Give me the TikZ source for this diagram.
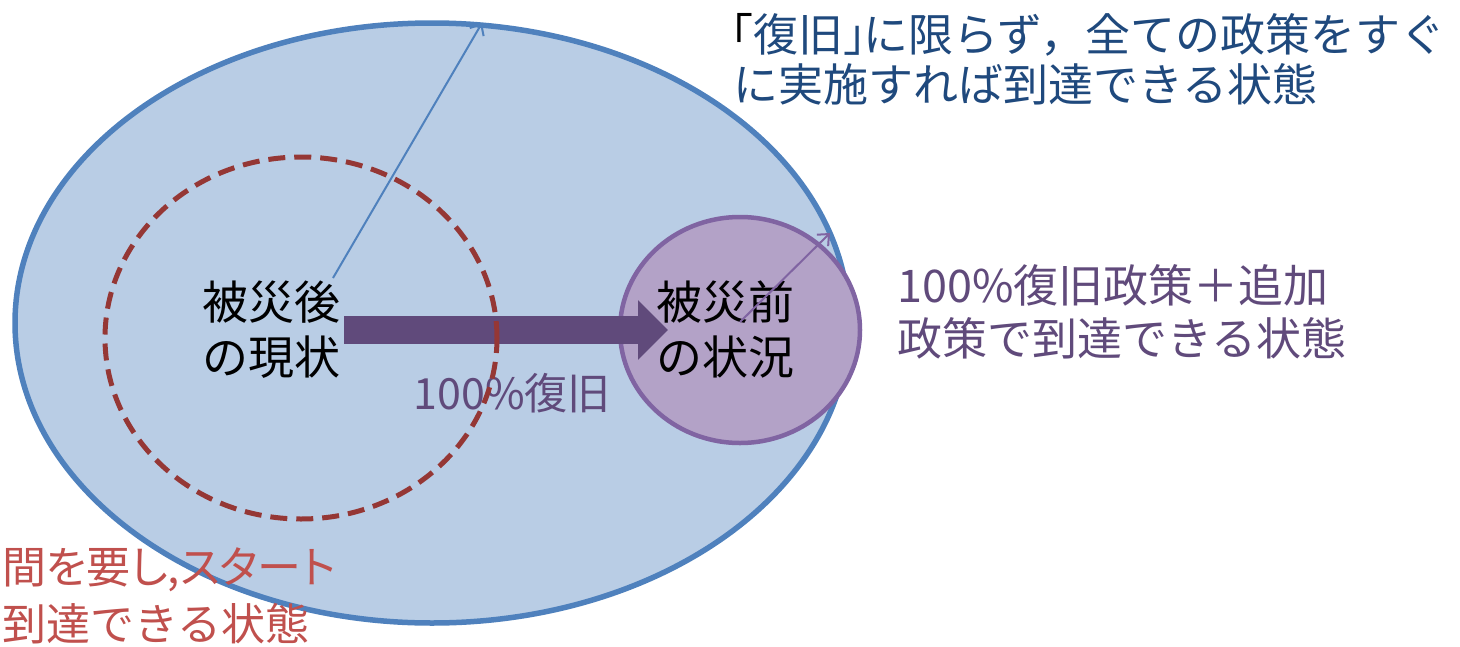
\documentclass[tikz,border=0pt]{standalone}
\usepackage{fontspec}
\setmainfont{Noto Sans CJK JP}
\usetikzlibrary{shapes.geometric,arrows.meta}
\definecolor{outerfill}{HTML}{B9CDE5}
\definecolor{outerline}{HTML}{4F81BD}
\definecolor{dashred}{HTML}{953735}
\definecolor{purfill}{HTML}{B3A2C7}
\definecolor{purline}{HTML}{8064A2}
\definecolor{darkpur}{HTML}{604A7B}
\definecolor{navy}{HTML}{1F497D}
\definecolor{redtxt}{HTML}{C0504D}
\begin{document}
\begin{tikzpicture}[x=1pt,y=-1pt,
  region/.style={ellipse, inner sep=0pt, outer sep=0pt},
  bigtext/.style={inner sep=0pt, align=center, font=\fontsize{46pt}{55pt}\selectfont},
  note/.style={inner sep=0pt, align=left, anchor=west, font=\fontsize{45pt}{53pt}\selectfont},
  thinarrow/.style={line width=2pt, -{Straight Barb[length=9pt,width=16pt,line width=2pt]}}
]
\useasboundingbox (0,0) rectangle (1460,646);
% outer ellipse
\node[region, draw=outerline, fill=outerfill, line width=5.5pt,
      minimum width=834pt, minimum height=600pt] (outer) at (432,323) {};
% pre-disaster circle
\node[region, draw=purline, fill=purfill, line width=4.5pt,
      minimum width=240pt, minimum height=226pt] (before) at (740,330) {};
% labels
\node[bigtext] (nowtxt) at (271,330) {被災後\\の現状};
\node[bigtext] (beftxt) at (725,329) {被災前\\の状況};
% big arrow
\coordinate (bs) at (344,330);
\coordinate (be) at (668,330);
\draw[darkpur, line width=28pt, -{Triangle[length=30pt,width=58pt]}] (bs) -- (be);
% recovery label
\node[inner sep=0pt, text=darkpur, font=\fontsize{43pt}{50pt}\selectfont] (rec) at (512,393) {100\%復旧};
% dashed current-state circle
\node[region, draw=dashred, line width=5pt, dash pattern=on 17pt off 9pt,
      minimum width=392pt, minimum height=362pt] (now) at (301,338) {};
% thin arrows
\coordinate (a1s) at (333,278);
\coordinate (a1e) at (482,23);
\draw[outerline, thinarrow] (a1s) -- (a1e);
\coordinate (a2s) at (740,322);
\coordinate (a2e) at (830,233);
\draw[purline, thinarrow] (a2s) -- (a2e);
% side notes
\node[note, text=navy, font=\fontsize{45pt}{50pt}\selectfont] (topnote) at (733,59)
  {\makebox[20pt][r]{\textcolor{black}{「}}復旧\makebox[20pt][l]{」}に限らず，全ての政策をすぐ\\に実施すれば到達できる状態};
\node[note, text=darkpur] (rightnote) at (897,312)
  {100\%復旧政策＋追加\\政策で到達できる状態};
\node[note, text=redtxt, font=\fontsize{44pt}{57pt}\selectfont] (leftnote) at (2,596)
  {{\addfontfeature{RawFeature=+palt}間を要し,スタート}\\到達できる状態};
\end{tikzpicture}
\end{document}
